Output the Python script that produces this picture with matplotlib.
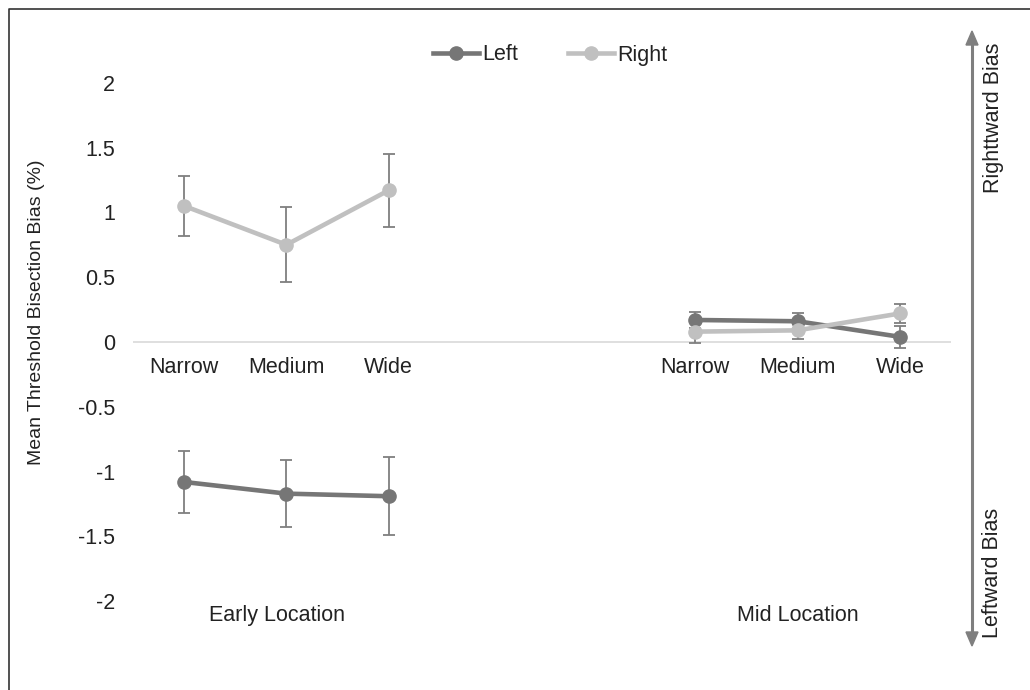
import numpy as np
import matplotlib.pyplot as plt
from matplotlib.lines import Line2D

plt.rcParams['font.family'] = ['Liberation Sans', 'DejaVu Sans']

# categories (two blank slots separate the location groups)
widths = ['Narrow', 'Medium', 'Wide', '', '', 'Narrow', 'Medium', 'Wide']
locations = ['Early Location', 'Mid Location']

left_vals = [-1.08, -1.17, -1.19, np.nan, np.nan, 0.17, 0.16, 0.04]
left_err = [0.24, 0.26, 0.30, np.nan, np.nan, 0.06, 0.065, 0.085]
right_vals = [1.05, 0.75, 1.17, np.nan, np.nan, 0.08, 0.09, 0.22]
right_err = [0.23, 0.29, 0.28, np.nan, np.nan, 0.085, 0.07, 0.07]

W, H = 1030, 690
FS = 15.5
TXT = '#222222'
fig = plt.figure(figsize=(W / 100, H / 100), dpi=100)

# axes placed in pixel terms: x 133..951, y 2.5 at 18px, -2.5 at 666px
ax = fig.add_axes([133 / W, 1 - 666 / H, 818 / W, 648 / H])
x = np.arange(len(widths))

col_left = '#767676'
col_right = '#c0c0c0'
col_err = '#7f7f7f'

ax.axhline(0, color='#d9d9d9', lw=1.2, zorder=1)

ax.errorbar(x, left_vals, yerr=left_err, fmt='none', ecolor=col_err,
            elinewidth=1.3, capsize=4, capthick=1.3, zorder=2)
ax.errorbar(x, right_vals, yerr=right_err, fmt='none', ecolor=col_err,
            elinewidth=1.3, capsize=4, capthick=1.3, zorder=2)
ax.plot(x, left_vals, color=col_left, lw=3.3, marker='o', ms=9.5, zorder=3, label='Left')
ax.plot(x, right_vals, color=col_right, lw=3.3, marker='o', ms=9.5, zorder=3, label='Right')

ax.set_xlim(-0.5, len(widths) - 0.5)
ax.set_ylim(-2.5, 2.5)
ax.set_yticks([-2, -1.5, -1, -0.5, 0, 0.5, 1, 1.5, 2])
ax.set_yticklabels(['-2', '-1.5', '-1', '-0.5', '0', '0.5', '1', '1.5', '2'])
ax.set_xticks([])
ax.tick_params(axis='y', length=0, pad=13, labelsize=FS, labelcolor=TXT)
for s in ax.spines.values():
    s.set_visible(False)

# category labels just under the zero line
for xi, lab in zip(x, widths):
    if lab:
        ax.text(xi, -0.2, lab, ha='center', va='center', fontsize=FS, color=TXT)

# group labels
ax.text(0.91, -2.11, locations[0], ha='center', va='center', fontsize=FS, color=TXT)
ax.text(6.0, -2.11, locations[1], ha='center', va='center', fontsize=FS, color=TXT)

fig.text(37 / W, 1 - 312 / H, 'Mean Threshold Bisection Bias (%)', rotation=90,
         ha='center', va='center', fontsize=14, color=TXT)

ax.legend(loc='center', bbox_to_anchor=((550 - 133) / 818, (666 - 55) / 648), ncol=2,
          frameon=False, fontsize=FS, handlelength=2.15, handletextpad=0.15,
          columnspacing=2.3, labelcolor=TXT)

# bias arrow on the right
fig.add_artist(Line2D([972 / W, 972 / W], [1 - 44 / H, 1 - 634 / H], color=col_err, lw=2.2))
fig.patches.append(plt.Polygon([[972 / W, 1 - 31 / H], [966 / W, 1 - 45 / H], [978 / W, 1 - 45 / H]],
                               closed=True, transform=fig.transFigure, color=col_err))
fig.patches.append(plt.Polygon([[972 / W, 1 - 646 / H], [966 / W, 1 - 632 / H], [978 / W, 1 - 632 / H]],
                               closed=True, transform=fig.transFigure, color=col_err))
fig.text(993 / W, 1 - 118 / H, 'Righttward Bias', rotation=90, ha='center', va='center',
         fontsize=FS, color=TXT)
fig.text(993 / W, 1 - 573 / H, 'Leftward Bias', rotation=90, ha='center', va='center',
         fontsize=FS, color=TXT)

# outer frame (left and top edges)
fig.add_artist(Line2D([9 / W, 9 / W, 1], [0, 1 - 9 / H, 1 - 9 / H], color='#333333', lw=1.2))

fig.savefig('out.png', dpi=100)
